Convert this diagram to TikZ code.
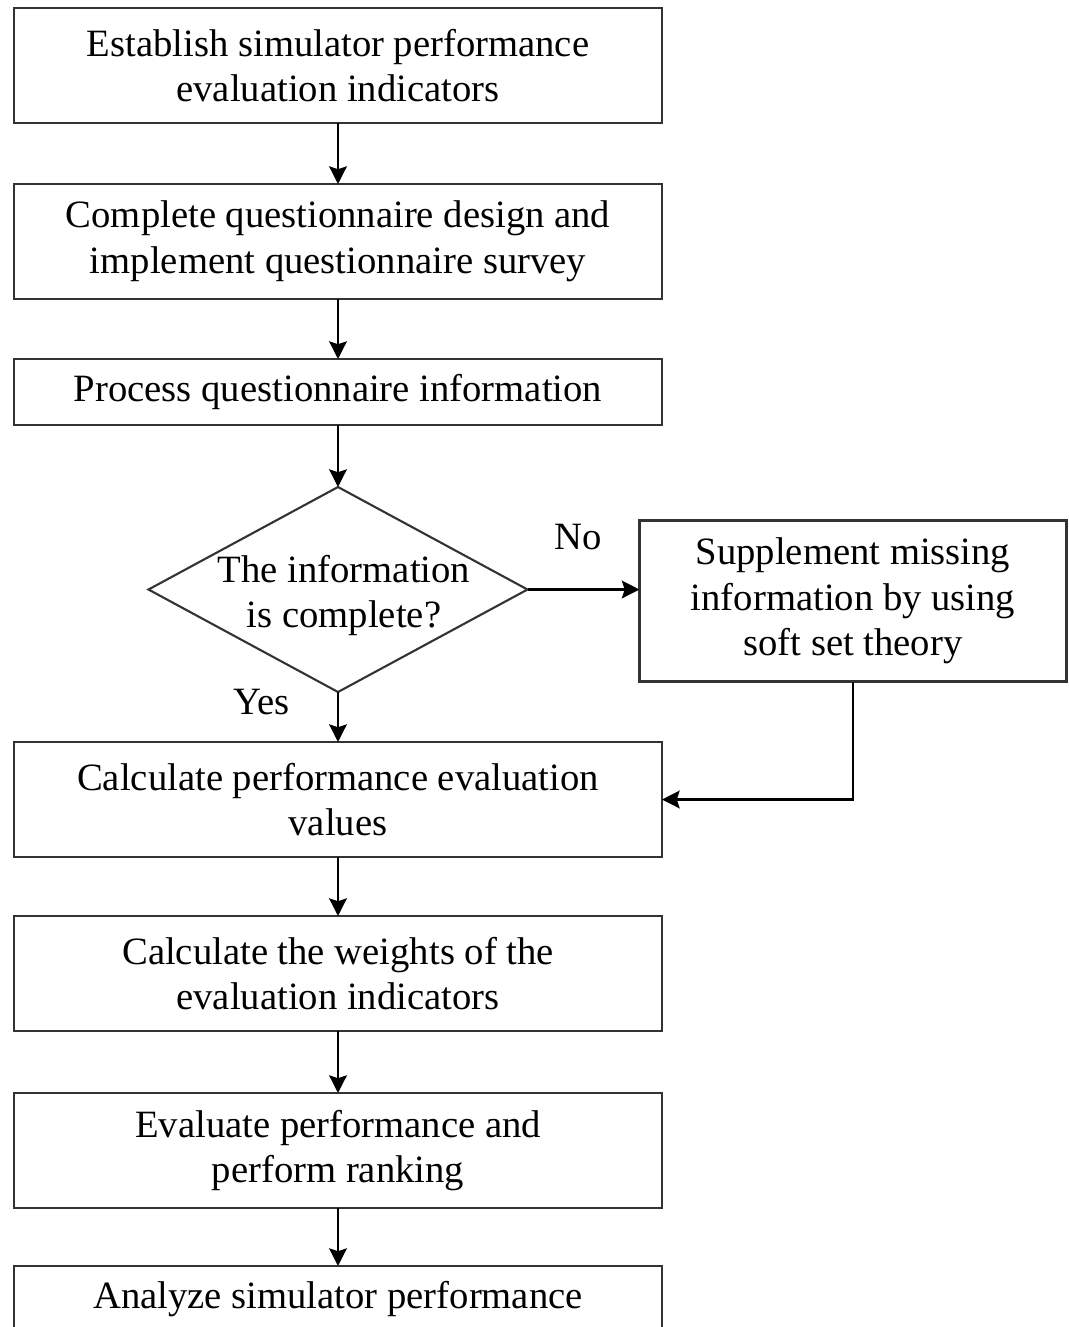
\documentclass[tikz,border=0pt]{standalone}
\usepackage{fontspec}
\setmainfont{Liberation Serif}
\usetikzlibrary{positioning,arrows.meta,shapes.geometric}

\begin{document}
\begin{tikzpicture}[
  node distance=0.6cm,
  every node/.style={font=\fontsize{11}{13}\selectfont},
  box/.style={rectangle, draw=black!80, semithick,
    minimum width=6.48cm, minimum height=1.15cm,
    align=center, inner sep=2pt, outer sep=0pt},
  flatbox/.style={box, minimum height=0.66cm},
  decision/.style={diamond, draw=black!80, semithick,
    minimum width=3.79cm, minimum height=2.05cm, inner sep=0pt, outer sep=0pt},
  tag/.style={inner sep=0pt},
  arr/.style={-{Stealth[length=5pt,width=5pt,inset=0.8pt]}, thick}
]
\useasboundingbox (0,0) rectangle (10.69,-13.27);
\node[box] (est) at (3.38,-0.655) {Establish simulator performance\\evaluation indicators};
\node[box, below=0.61cm of est]      (quest)  {Complete questionnaire design and\\implement questionnaire survey};
\node[flatbox, below=0.60cm of quest] (proc)  {Process questionnaire information};
\node[decision, below=0.62cm of proc,
  label={[align=center, xshift=0.06cm, yshift=-0.06cm]center:The information\\is complete?}] (check) {};
\node[box, right=1.12cm of check, yshift=-0.115cm,
  minimum width=4.27cm, minimum height=1.61cm] (supp) {Supplement missing\\information by using\\soft set theory};
\node[box, below=0.50cm of check]    (calc)   {Calculate performance evaluation\\values};
\node[box, below=0.59cm of calc]     (weight) {Calculate the weights of the\\evaluation indicators};
\node[box, below=0.62cm of weight]   (rank)   {Evaluate performance and\\perform ranking};
\node[flatbox, below=0.58cm of rank] (anal)   {Analyze simulator performance};
\node[tag, anchor=north east] (yes) at ([xshift=-0.48cm,yshift=0.04cm]check.south) {Yes};
\draw[arr] (est)   -- (quest);
\draw[arr] (quest) -- (proc);
\draw[arr] (proc)  -- (check);
\draw[arr] (check.east) -- node[tag, pos=0.45, above=0.38cm] (no) {No} (check.east -| supp.west);
\draw[arr] (check) -- (calc);
\draw[arr] (supp.south) |- (calc.east);
\draw[arr] (calc)   -- (weight);
\draw[arr] (weight) -- (rank);
\draw[arr] (rank)   -- (anal);
\end{tikzpicture}
\end{document}
